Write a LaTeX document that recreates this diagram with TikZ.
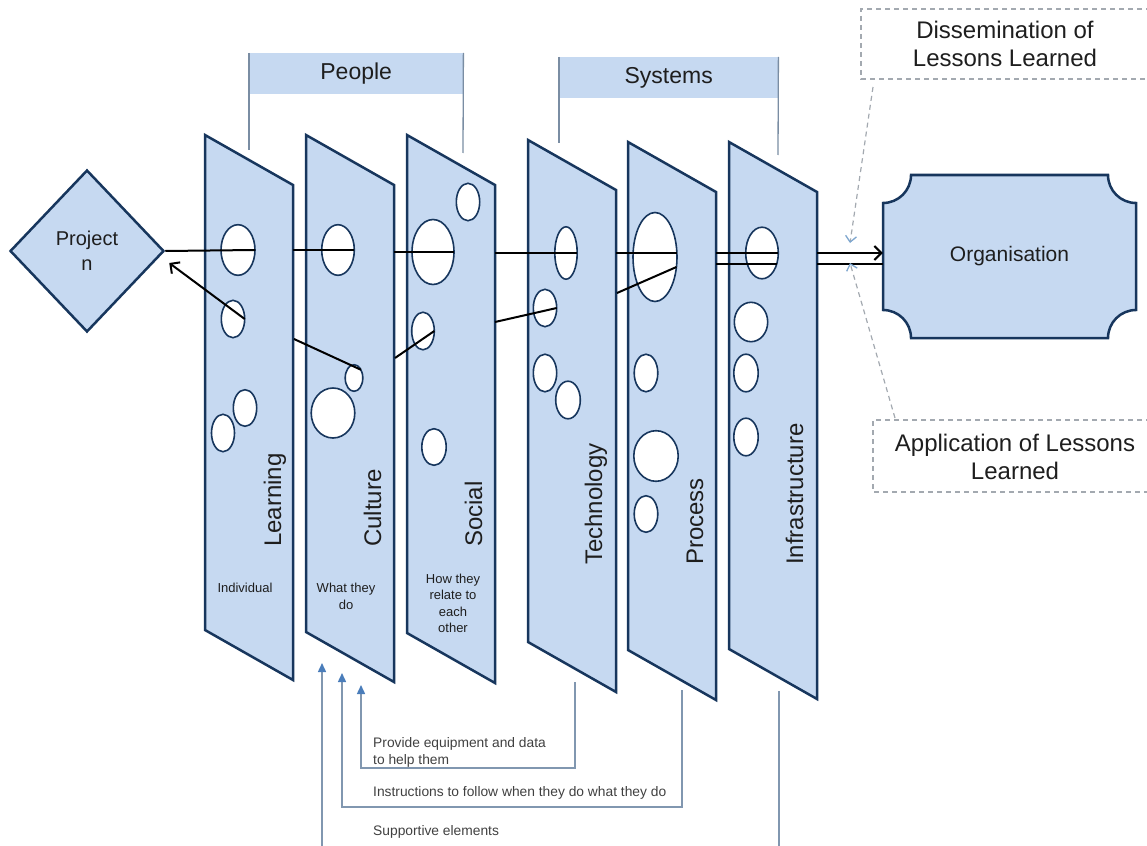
\documentclass[tikz,border=0pt]{standalone}
\usepackage{fontspec}
\setmainfont{Liberation Sans}
\usetikzlibrary{shapes.geometric,arrows.meta,calc}

\definecolor{panelfill}{HTML}{C6D9F1}
\definecolor{navy}{HTML}{17365D}
\definecolor{bracket}{HTML}{7A8DA3}
\definecolor{feed}{HTML}{8197B0}
\definecolor{feedtip}{HTML}{4A7DBA}
\definecolor{dashgray}{HTML}{A3A9B0}
\definecolor{dashtip}{HTML}{7EA6CE}
\definecolor{txt}{HTML}{1E1E1E}

\newcommand\fs[2]{\fontsize{#1}{#2}\selectfont}

\tikzset{
  slabstyle/.style={draw=navy, fill=panelfill, line width=2.5pt, line join=miter},
  holestyle/.style={ellipse, draw=navy, fill=white, line width=1.6pt, inner sep=0pt, outer sep=0pt},
  flow/.style={draw=black, line width=2pt},
  flowtip/.style={-{Straight Barb[length=7pt,width=14pt,line width=2pt]}},
  header/.style={fill=panelfill, inner sep=0pt, text=txt, font=\fs{23}{27}},
  bracketline/.style={draw=bracket, line width=1.3pt},
  vlabel/.style={rotate=90, anchor=base west, inner sep=0pt, text=txt, font=\fs{24}{28}},
  sublabel/.style={align=center, inner sep=0pt, text=txt, font=\fs{13}{16.5}},
  feedtext/.style={align=left, anchor=west, inner sep=0pt, text=txt!85, font=\fs{13.8}{17}},
  feedline/.style={draw=feed, line width=1.5pt, -{Triangle[length=9pt,width=8pt,color=feedtip]}},
  dashbox/.style={draw=dashgray, line width=1.2pt, dash pattern=on 5pt off 4pt},
  dasharrow/.style={draw=dashgray, line width=1.2pt, dash pattern=on 5pt off 4pt,
    -{Straight Barb[length=6pt,width=11pt,line width=1.3pt,color=dashtip]}},
  boxtext/.style={align=center, inner sep=0pt, text=txt, font=\fs{24}{28}},
}

% a slanted panel: name, left x, top-left y, bottom-left y
\newcommand\slab[4]{%
  \coordinate (#1-tl) at (#2,#3);
  \coordinate (#1-tr) at (#2+88,#3+50);
  \coordinate (#1-br) at (#2+88,#4+50);
  \coordinate (#1-bl) at (#2,#4);
  \draw[slabstyle] (#1-tl) -- (#1-tr) -- (#1-br) -- (#1-bl) -- cycle;}

% an opening in a panel: name, centre x, centre y, x radius, y radius
\newcommand\mkhole[5]{%
  \node[holestyle, minimum width={2*#4pt}, minimum height={2*#5pt}] (#1) at (#2,#3) {};}

\begin{document}
\begin{tikzpicture}[x=1pt,y=-1pt]
\useasboundingbox (0,0) rectangle (1147,845);
\clip (0,0) rectangle (1147,845);

% group headers with their brackets
\node[header, minimum width=214pt, minimum height=41pt, anchor=north west] (ppl) at (249,53) {People};
\coordinate (ppl-l) at (249,150);
\coordinate (ppl-r) at (463,153);
\draw[bracketline] (ppl.north west) -- (ppl-l);
\draw[bracketline] (ppl.north east) -- (ppl-r);

\node[header, minimum width=219pt, minimum height=41pt, anchor=north west] (sys) at (559,57) {Systems};
\coordinate (sys-l) at (559,143);
\coordinate (sys-r) at (778,155);
\draw[bracketline] (sys.north west) -- (sys-l);
\draw[bracketline] (sys.north east) -- (sys-r);

% project
\node[diamond, draw=navy, fill=panelfill, line width=2.5pt, minimum width=154pt,
      minimum height=162pt, inner sep=0pt, align=center, text=txt, font=\fs{20}{25}]
      (dia) at (87,251) {Project\\n};

% panels
\slab{Lrn}{205}{135}{630}
\slab{Cul}{306}{135}{632}
\slab{Soc}{407}{135}{633}
\slab{Tec}{528}{140}{642}
\slab{Prc}{628}{142}{650}
\slab{Inf}{729}{142}{649}

% openings
\mkhole{L1}{238}{250}{17}{25.3}
\mkhole{L2}{233}{319}{11.7}{18.7}
\mkhole{L3}{245}{408}{11.7}{18.3}
\mkhole{L4}{223}{433}{11.5}{18.7}

\mkhole{C1}{338}{250}{16.3}{25.3}
\mkhole{C2}{354}{378}{8.8}{13.3}
\mkhole{C3}{333}{413}{21.8}{25}

\mkhole{S1}{468}{202}{11.7}{18.7}
\mkhole{S2}{433}{252}{21}{32.5}
\mkhole{S3}{423}{331}{11.3}{18.8}
\mkhole{S4}{434}{447}{12.2}{18.3}

\mkhole{T1}{566}{253}{11.2}{26.2}
\mkhole{T2}{545}{308}{11.7}{18.7}
\mkhole{T3}{545}{373}{11.7}{18.8}
\mkhole{T4}{568}{400}{12.3}{18.8}

\mkhole{P1}{655}{257}{22}{44.5}
\mkhole{P2}{646}{373}{11.8}{18.8}
\mkhole{P3}{656}{456}{22.2}{25.3}
\mkhole{P4}{646}{514}{11.8}{18.3}

\mkhole{I1}{762}{253}{16.3}{25.8}
\mkhole{I2}{751}{322}{16.7}{19.7}
\mkhole{I3}{746}{373}{12.2}{18.8}
\mkhole{I4}{746}{437}{12.2}{18.8}

% panel titles
\node[vlabel] (lab-lrn) at (281,547) {Learning};
\node[vlabel] (lab-cul) at (381,547) {Culture};
\node[vlabel] (lab-soc) at (482,547) {Social};
\node[vlabel] (lab-tec) at (602,565) {Technology};
\node[vlabel] (lab-prc) at (703,565) {Process};
\node[vlabel] (lab-inf) at (803,565) {Infrastructure};

\node[sublabel] (sub-lrn) at (245,588) {Individual};
\node[sublabel] (sub-cul) at (346,596.5) {What they\\do};
\node[sublabel] (sub-soc) at (453,603.5) {How they\\relate to\\each\\other};

% organisation
\draw[draw=navy, fill=panelfill, line width=2.5pt]
  (911,175) -- (1108,175) arc[start angle=180,end angle=90,radius=28]
  -- (1136,310) arc[start angle=270,end angle=180,radius=28]
  -- (911,338) arc[start angle=0,end angle=-90,radius=28]
  -- (883,203) arc[start angle=90,end angle=0,radius=28] -- cycle;
\node[minimum width=253pt, minimum height=163pt, inner sep=0pt, text=txt, font=\fs{21}{25}]
  (org) at (1009.5,256.5) {Organisation};

% flow through the panels
\draw[flow] (dia.east) -- (L1.east);
\draw[flow] (C1.east -| Lrn-tr) -- (C1.east);
\draw[flow] (S2.east -| Cul-tr) -- (S2.east);
\draw[flow] (T1.east -| Soc-tr) -- (T1.east);
\draw[flow] (P1.10 -| Tec-tr) -- (P1.10);
\draw[flow] (I1.east -| Prc-tr) -- (I1.east);
\draw[flow] (I1.-37 -| Prc-tr) -- (I1.-37);
\draw[flow, flowtip] (I1.east -| Inf-tr) -- (I1.east -| org.west);
\draw[flow] (I1.-37 -| Inf-tr) -- (I1.-37 -| org.west);

% return path back to the project
\coordinate (rt1) at (617,293);
\coordinate (rt2) at (495,322);
\coordinate (rt3) at (395,358);
\coordinate (rt4) at (294,339);
\draw[flow] (P1.-25) -- (rt1);
\draw[flow] (rt2) -- (T2.east);
\draw[flow] (S3.east) -- (rt3);
\draw[flow] (C2.50) -- (rt4);
\draw[flow, flowtip] (L2.east) -- ($(dia.east)+(4,12)$);

% lessons learned
\draw[dashbox] (1160,9) -| (861,79) -- (1160,79);
\node[boxtext] (diss) at (1005,44) {Dissemination of\\Lessons Learned};
\coordinate (diss-out) at (873,87);
\coordinate (diss-in) at (850,243);
\draw[dasharrow] (diss-out) -- (diss-in);

\draw[dashbox] (1160,420) -| (873,492) -- (1160,492);
\node[boxtext] (appl) at (1015,457) {Application of Lessons\\Learned};
\coordinate (appl-out) at (895,418);
\coordinate (appl-in) at (850,263);
\draw[dasharrow] (appl-out) -- (appl-in);

% supporting links from the systems to the people
\coordinate (f1a) at (575,682);
\coordinate (f1c) at (361,768);
\coordinate (f1b) at (361,685);
\draw[feedline] (f1a) |- (f1c) -- (f1b);
\node[feedtext] (ft1) at (373,752.5) {Provide equipment and data\\to help them};

\coordinate (f2a) at (682,690);
\coordinate (f2c) at (342,807);
\coordinate (f2b) at (342,673);
\draw[feedline] (f2a) |- (f2c) -- (f2b);
\node[feedtext] (ft2) at (373,793) {Instructions to follow when they do what they do};

\coordinate (f3a) at (779,691);
\coordinate (f3c) at (322,870);
\coordinate (f3b) at (322,663);
\draw[feedline] (f3a) |- (f3c) -- (f3b);
\node[feedtext] (ft3) at (373,832) {Supportive elements};
\end{tikzpicture}
\end{document}
